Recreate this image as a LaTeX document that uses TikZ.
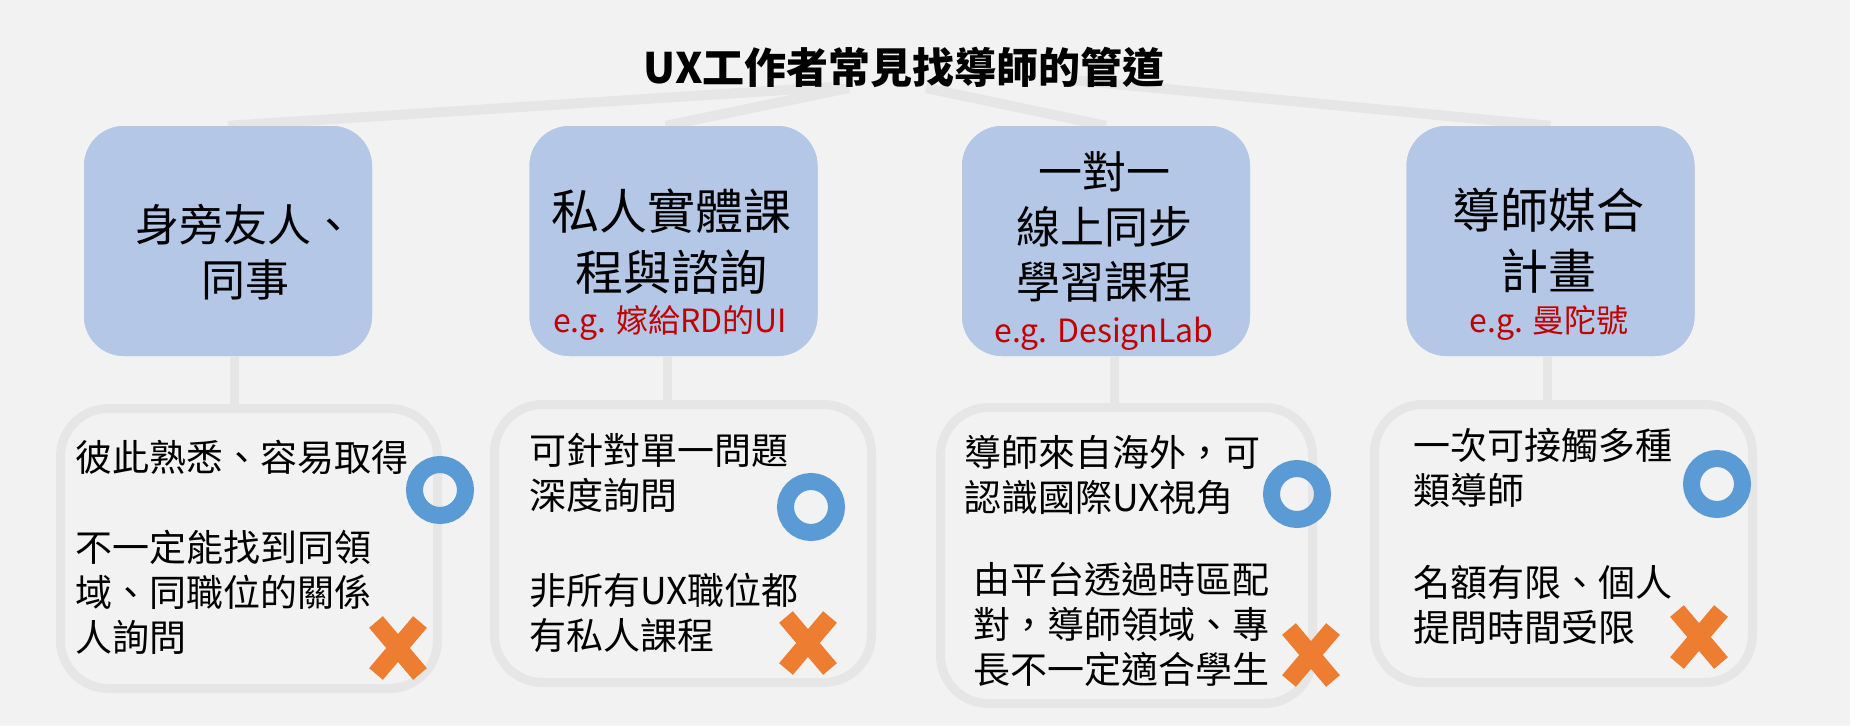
\documentclass[tikz,border=0pt]{standalone}
\usepackage{fontspec}
\setmainfont{Noto Sans CJK TC}
\definecolor{bggray}{HTML}{F2F2F2}
\definecolor{linegray}{HTML}{E6E6E6}
\definecolor{wayblue}{HTML}{B4C7E7}
\definecolor{ringblue}{HTML}{5B9BD5}
\definecolor{crossorange}{HTML}{ED7D31}
\definecolor{egred}{HTML}{C00000}

\begin{document}
\begin{tikzpicture}[x=1pt, y=-1pt,
    treelink/.style={draw=linegray, line width=10pt},
    waybox/.style={fill=wayblue, rounded corners=40pt, minimum width=288pt, minimum height=230pt, inner sep=0pt},
    waytext/.style={align=center, inner sep=0pt, font={\fontsize{44}{55}\selectfont}},
    waytextbig/.style={align=center, inner sep=0pt, font={\fontsize{48}{61}\selectfont}},
    egtext/.style={anchor=base, inner sep=0pt, text=egred, font={\fontsize{32}{38}\selectfont}},
    notebox/.style={draw=linegray, fill=bggray, line width=9pt, rounded corners=48pt, inner sep=0pt},
    notetext/.style={anchor=west, align=left, inner sep=0pt, font={\fontsize{37}{45}\selectfont}},
    goodmark/.style={circle, draw=ringblue, line width=17pt, minimum size=51pt, inner sep=0pt},
    crossarm/.style={draw=crossorange, line width=18pt}]

    % Background
    \useasboundingbox (0,0) rectangle (1850,726);
    \fill[bggray] (0,0) rectangle (1850,726);

    % Forks behind the title
    \coordinate (fork1) at (832,87);
    \coordinate (fork2) at (849,88);
    \coordinate (fork3) at (926,88);
    \coordinate (fork4) at (1072,80);

    % Top boxes (channels)
    \node[waybox] (way1) at (228,241) {};
    \node[waybox] (way2) at (673.5,241) {};
    \node[waybox] (way3) at (1106,241) {};
    \node[waybox] (way4) at (1550.5,241) {};

    % Links from title to channels
    \draw[treelink] (fork1) -- (way1.north);
    \draw[treelink] (fork2) -- ([xshift=-8pt]way2.north);
    \draw[treelink] (fork3) -- (way3.north);
    \draw[treelink] (fork4) -- (way4.north);

    % Boxes again, over the link ends
    \node[waybox] at (way1) {};
    \node[waybox] at (way2) {};
    \node[waybox] at (way3) {};
    \node[waybox] at (way4) {};

    % Title
    \node[font={\fontsize{42}{50}\selectfont\bfseries}] (title) at (904,67) {UX工作者常見找導師的管道};

    % Channel names
    \node[waytext] (wayname1) at (245,252.5) {身旁友人、\\同事};
    \node[waytextbig] (wayname2) at (671,242) {私人實體課\\程與諮詢};
    \node[waytext] (wayname3) at (1104,227) {一對一\\線上同步\\學習課程};
    \node[waytextbig] (wayname4) at (1548,241) {導師媒合\\計畫};

    % Examples in red
    \node[egtext] (eg2) at (670,332) {e.g. 嫁給RD的UI};
    \node[egtext] (eg3) at (1104,342) {e.g. DesignLab};
    \node[egtext] (eg4) at (1549,332) {e.g. 曼陀號};

    % Stems down to the notes
    \coordinate (stem1) at (234,404);
    \coordinate (stem2) at (667,404);
    \coordinate (stem3) at (1114,407);
    \coordinate (stem4) at (1547,404);
    \draw[treelink, line width=9pt] (stem1 |- way1.south) -- (stem1);
    \draw[treelink, line width=9pt] (stem2 |- way2.south) -- (stem2);
    \draw[treelink, line width=9pt] (stem3 |- way3.south) -- (stem3);
    \draw[treelink, line width=9pt] (stem4 |- way4.south) -- (stem4);

    % Note boxes (pros and cons)
    \node[notebox, minimum width=377pt, minimum height=280pt] (note1) at (249,548.5) {};
    \node[notebox, minimum width=377pt, minimum height=278pt] (note2) at (683,543.5) {};
    \node[notebox, minimum width=372pt, minimum height=296pt] (note3) at (1126.5,555.5) {};
    \node[notebox, minimum width=378pt, minimum height=278pt] (note4) at (1563.5,543.5) {};

    % Pros
    \node[notetext] (pro1) at (75,457) {彼此熟悉、容易取得};
    \node[notetext] (pro2) at (529,472.5) {可針對單一問題\\深度詢問};
    \node[notetext] (pro3) at (964,474.5) {導師來自海外，可\\認識國際UX視角};
    \node[notetext] (pro4) at (1413,467.5) {一次可接觸多種\\類導師};

    % Cons
    \node[notetext] (con1) at (75,592) {不一定能找到同領\\域、同職位的關係\\人詢問};
    \node[notetext] (con2) at (529,612.5) {非所有UX職位都\\有私人課程};
    \node[notetext] (con3) at (973,624) {由平台透過時區配\\對，導師領域、專\\長不一定適合學生};
    \node[notetext] (con4) at (1413,604.5) {名額有限、個人\\提問時間受限};

    % Blue rings
    \node[goodmark] (good1) at (440,490) {};
    \node[goodmark] (good2) at (811,507) {};
    \node[goodmark] (good3) at (1297,494) {};
    \node[goodmark] (good4) at (1717,484) {};

    % Orange crosses
    \coordinate (bad1) at (398,648);
    \coordinate (bad2) at (808,643);
    \coordinate (bad3) at (1311,655);
    \coordinate (bad4) at (1699,637);
    \draw[crossarm] ([shift={(-22,-26)}]bad1) -- ([shift={(22,26)}]bad1);
    \draw[crossarm] ([shift={(22,-26)}]bad1) -- ([shift={(-22,26)}]bad1);
    \draw[crossarm] ([shift={(-22,-26)}]bad2) -- ([shift={(22,26)}]bad2);
    \draw[crossarm] ([shift={(22,-26)}]bad2) -- ([shift={(-22,26)}]bad2);
    \draw[crossarm] ([shift={(-22,-26)}]bad3) -- ([shift={(22,26)}]bad3);
    \draw[crossarm] ([shift={(22,-26)}]bad3) -- ([shift={(-22,26)}]bad3);
    \draw[crossarm] ([shift={(-22,-26)}]bad4) -- ([shift={(22,26)}]bad4);
    \draw[crossarm] ([shift={(22,-26)}]bad4) -- ([shift={(-22,26)}]bad4);
\end{tikzpicture}
\end{document}
